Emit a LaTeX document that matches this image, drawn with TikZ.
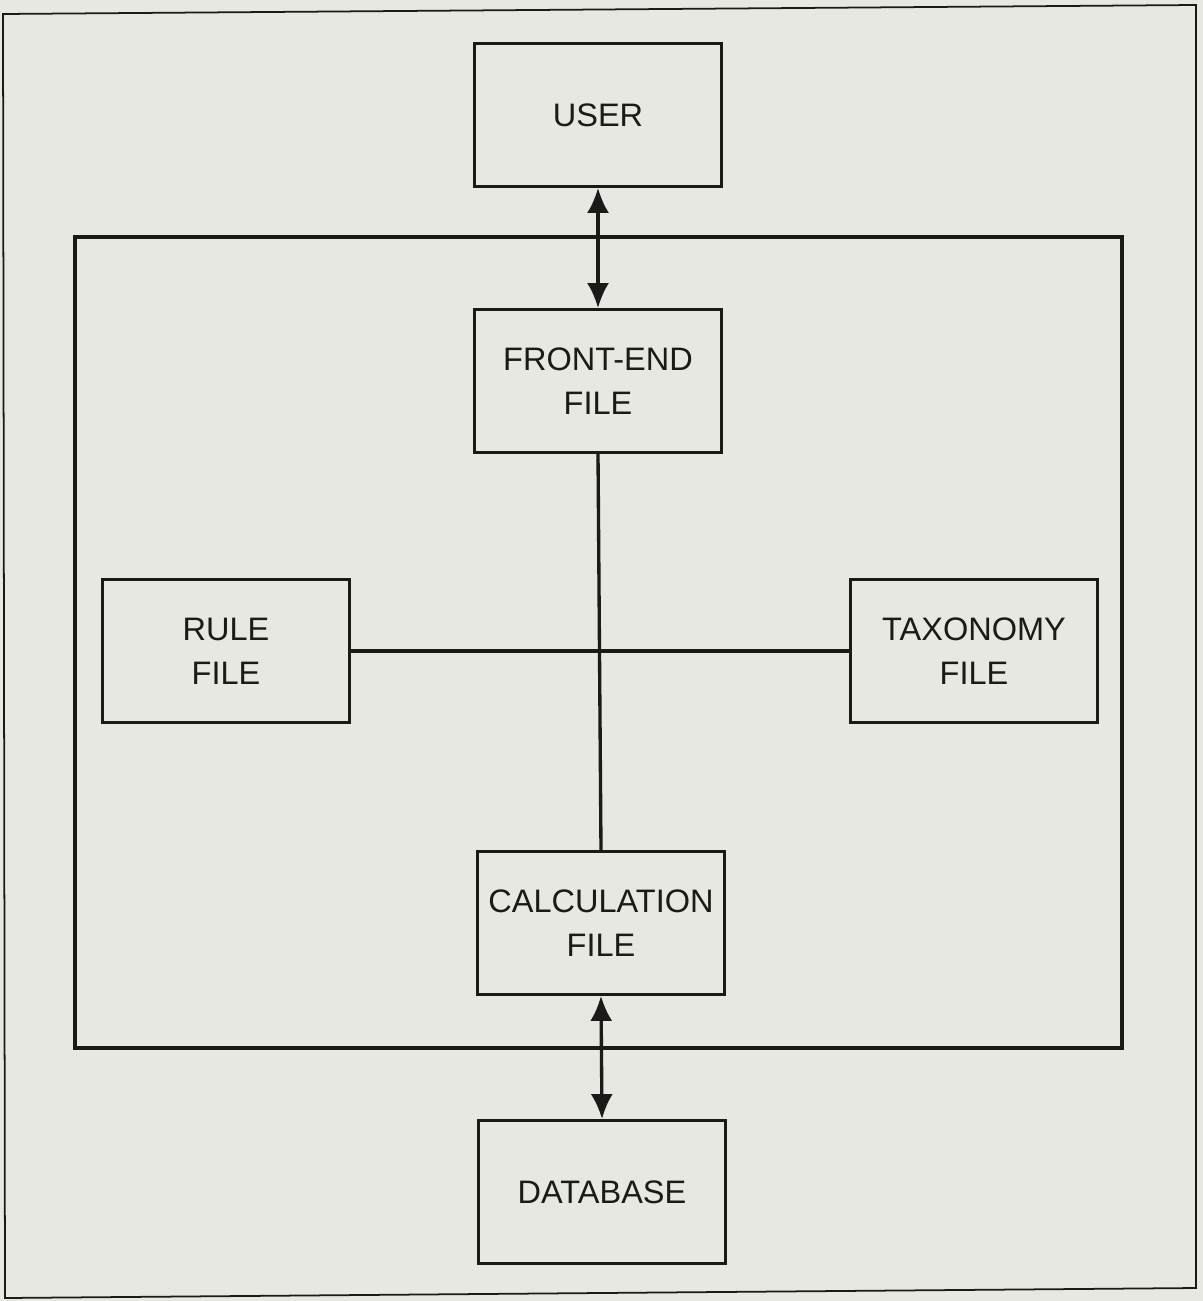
\documentclass[tikz,border=0pt]{standalone}
\usepackage{fontspec}
\setmainfont{Liberation Sans}
\usetikzlibrary{arrows.meta}
\definecolor{paper}{RGB}{231,232,225}
\definecolor{ink}{RGB}{28,26,24}
\tikzset{
  filebox/.style={draw=ink, line width=1.9pt, minimum width=4.95cm,
    minimum height=2.85cm, align=center, inner sep=0pt,
    font=\fontsize{18.5}{25}\selectfont, text=ink},
  link/.style={draw=ink, line width=1.9pt},
  twoway/.style={link, {Latex[length=5mm,width=4.4mm]}-{Latex[length=5mm,width=4.4mm]}}
}
\begin{document}
\begin{tikzpicture}[x=0.02cm, y=-0.02cm]
  \fill[paper] (0,0) rectangle (1203,1301);
  \useasboundingbox (0,0) rectangle (1203,1301);
  \draw[ink, line width=1pt] (3,14) -- (1196,5) -- (1196,1288) -- (5,1298) -- cycle;
  \draw[ink, line width=1.9pt] (75,237) rectangle (1122,1048);
  \foreach \name/\x/\y/\txt in {user/598/115/USER, front/598/381/{FRONT-END\\FILE},
      rule/226/651/{RULE\\FILE}, tax/974/651/{TAXONOMY\\FILE},
      calc/601/923/{CALCULATION\\FILE}, db/602/1192/DATABASE} {
    \node[filebox] (\name) at (\x,\y) {\txt};
  }
  \draw[twoway] (user.south) -- (front.north);
  \draw[link] (front.south) -- (calc.north);
  \draw[link] (rule.east) -- (tax.west);
  \draw[twoway] (calc.south) -- (db.north);
\end{tikzpicture}
\end{document}
